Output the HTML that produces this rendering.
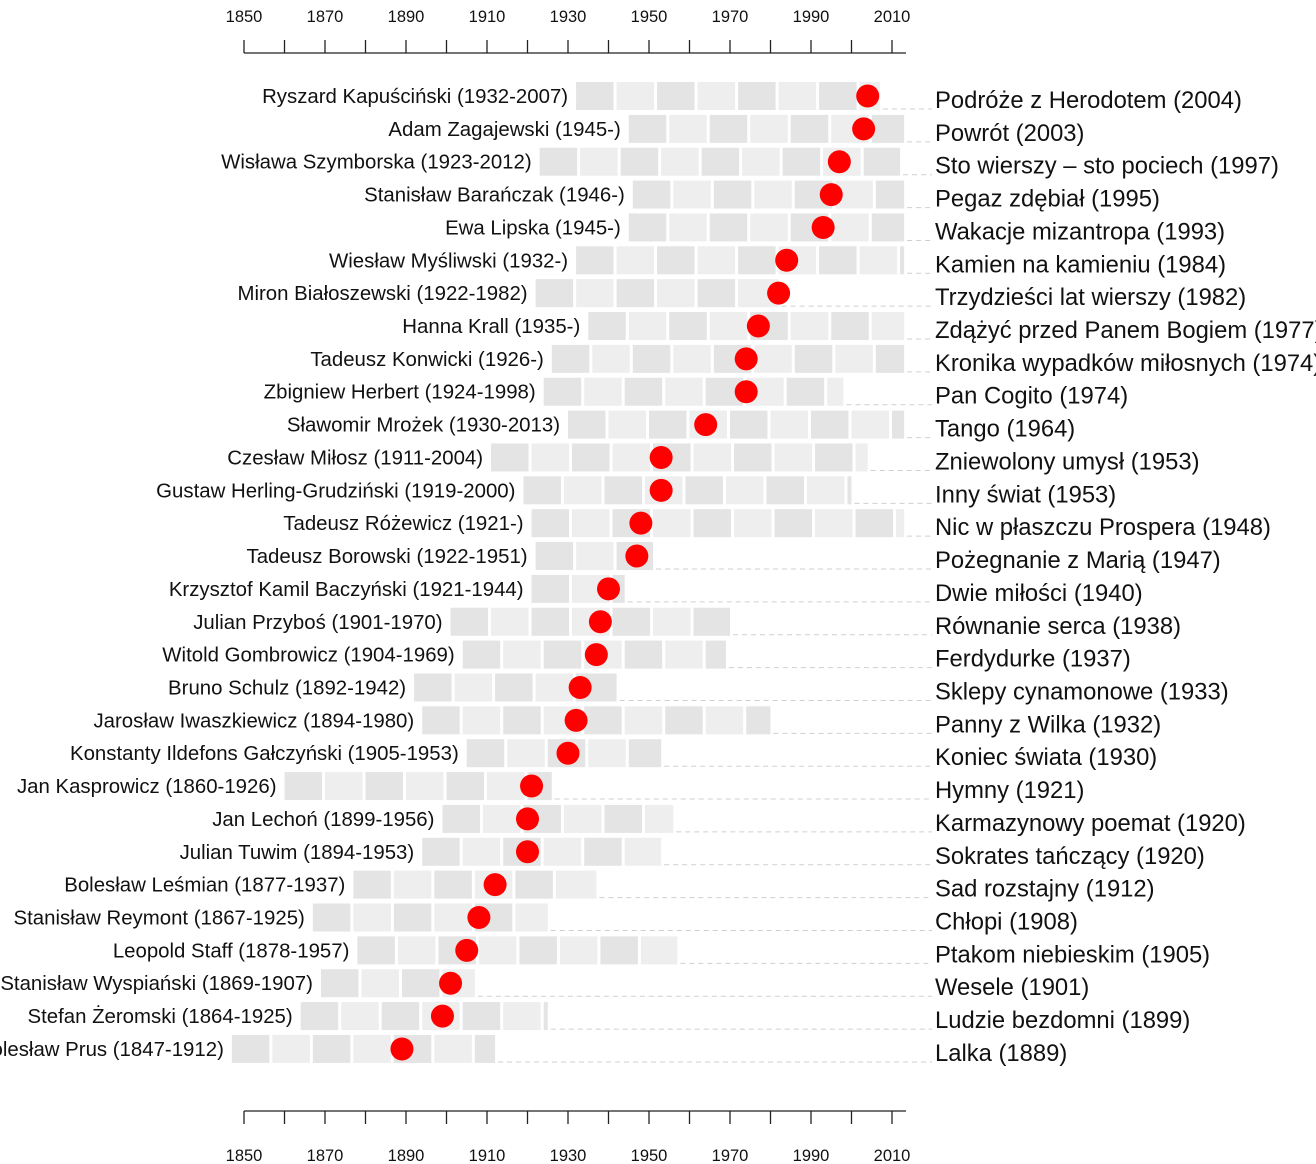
<!DOCTYPE html>
<html><head><meta charset="utf-8">
<style>
html,body{margin:0;padding:0;background:#fff;}
svg{display:block;font-family:"Liberation Sans",Arial,sans-serif;}
</style></head>
<body>
<svg id="chart" width="1316" height="1164" xmlns="http://www.w3.org/2000/svg"></svg>
<script>
const authors = ["Ryszard Kapuściński","Adam Zagajewski","Wisława Szymborska","Stanisław Barańczak","Ewa Lipska","Wiesław Myśliwski","Miron Białoszewski","Hanna Krall","Tadeusz Konwicki","Zbigniew Herbert","Sławomir Mrożek","Czesław Miłosz","Gustaw Herling-Grudziński","Tadeusz Różewicz","Tadeusz Borowski","Krzysztof Kamil Baczyński","Julian Przyboś","Witold Gombrowicz","Bruno Schulz","Jarosław Iwaszkiewicz","Konstanty Ildefons Gałczyński","Jan Kasprowicz","Jan Lechoń","Julian Tuwim","Bolesław Leśmian","Stanisław Reymont","Leopold Staff","Stanisław Wyspiański","Stefan Żeromski","Bolesław Prus"];
const births = [1932,1945,1923,1946,1945,1932,1922,1935,1926,1924,1930,1911,1919,1921,1922,1921,1901,1904,1892,1894,1905,1860,1899,1894,1877,1867,1878,1869,1864,1847];
const deaths = [2007,null,2012,null,null,null,1982,null,null,1998,2013,2004,2000,null,1951,1944,1970,1969,1942,1980,1953,1926,1956,1953,1937,1925,1957,1907,1925,1912];
const works = ["Podróże z Herodotem","Powrót","Sto wierszy – sto pociech","Pegaz zdębiał","Wakacje mizantropa","Kamien na kamieniu","Trzydzieści lat wierszy","Zdążyć przed Panem Bogiem","Kronika wypadków miłosnych","Pan Cogito","Tango","Zniewolony umysł","Inny świat","Nic w płaszczu Prospera","Pożegnanie z Marią","Dwie miłości","Równanie serca","Ferdydurke","Sklepy cynamonowe","Panny z Wilka","Koniec świata","Hymny","Karmazynowy poemat","Sokrates tańczący","Sad rozstajny","Chłopi","Ptakom niebieskim","Wesele","Ludzie bezdomni","Lalka"];
const workYears = [2004,2003,1997,1995,1993,1984,1982,1977,1974,1974,1964,1953,1953,1948,1947,1940,1938,1937,1933,1932,1930,1921,1920,1920,1912,1908,1905,1901,1899,1889];
const tickLabels = [1850,1870,1890,1910,1930,1950,1970,1990,2010];
const CURRENT = 2013;

const svg = document.getElementById('chart');
const NS = 'http://www.w3.org/2000/svg';
const x = y => 244 + (y - 1850) * 4.05;
const rowY = i => 96 + i * 32.86;
function mk(tag, attrs, parent){const e=document.createElementNS(NS,tag);for(const k in attrs)e.setAttribute(k,attrs[k]);(parent||svg).appendChild(e);return e;}

function axis(lineY, tickDir, labelY, name){
  const g = mk('g',{});
  
  
  mk('line',{x1:x(1850),x2:906,y1:lineY,y2:lineY,stroke:'#222','stroke-width':1.3},g);
  for(let yr=1850; yr<=2010; yr+=10){
    mk('line',{x1:x(yr),x2:x(yr),y1:lineY,y2:lineY+tickDir*13,stroke:'#222','stroke-width':1.3},g);
  }
  tickLabels.forEach(t=>{
    const tx = mk('text',{x:x(t),y:labelY,'text-anchor':'middle','font-size':16.5,fill:'#111'},g);
    
    
    tx.textContent = t;
  });
}
axis(53,-1,22,'top-axis');
axis(1111,1,1161,'bottom-axis');

authors.forEach((a,i)=>{
  const cy = rowY(i);
  const b = births[i];
  const d = deaths[i] === null ? CURRENT : deaths[i];
  const g = mk('g',{});
  
  
  const dl = mk('line',{x1:x(d)+3,x2:932,y1:cy+13,y2:cy+13,stroke:'#cfcfcf','stroke-width':1,'stroke-dasharray':'5,4'},g);
  
  
  let k=0;
  for(let s=b; s<d; s+=10, k++){
    const e = Math.min(s+10, d);
    const w = x(e) - x(s) - (e===d ? 0 : 3);
    const r = mk('rect',{x:x(s),y:cy-14,width:Math.max(w,0.5),height:28,fill:k%2===0?'#e4e4e4':'#eeeeee'},g);
    
    
  }
  const lbl = mk('text',{x:x(b)-8,y:cy+7,'text-anchor':'end','font-size':20.4,fill:'#111'},g);
  
  
  lbl.textContent = a + ' (' + b + '-' + (deaths[i]===null?'':deaths[i]) + ')';
  const dot = mk('circle',{cx:x(workYears[i]),cy:cy,r:11.5,fill:'#ff0000'},g);
  
  
  const wl = mk('text',{x:935,y:cy+12,'font-size':23.8,fill:'#111'},g);
  
  
  wl.textContent = works[i] + ' (' + workYears[i] + ')';
});
</script>
</body></html>
